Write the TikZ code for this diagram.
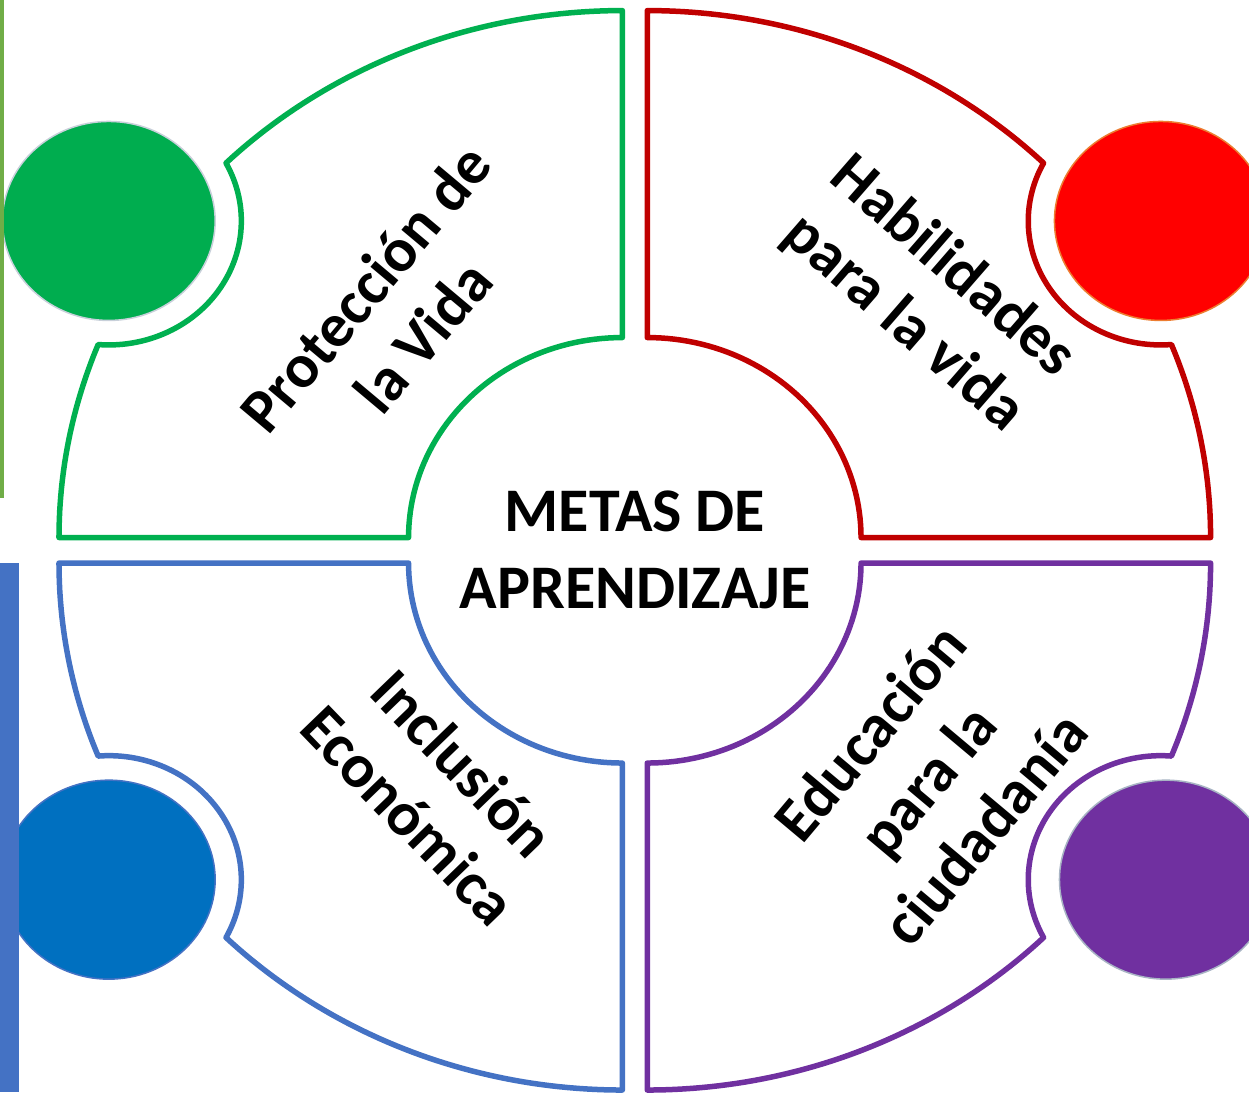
\documentclass[tikz,border=0pt]{standalone}
\usepackage{fontspec}
\setmainfont{Carlito}
\definecolor{gline}{HTML}{00B050}
\definecolor{gfill}{HTML}{00AD4F}
\definecolor{gring}{HTML}{C8D0DA}
\definecolor{rline}{HTML}{C00000}
\definecolor{rfill}{HTML}{FF0000}
\definecolor{rring}{HTML}{ED7D31}
\definecolor{bline}{HTML}{4472C4}
\definecolor{bfill}{HTML}{0070C0}
\definecolor{pline}{HTML}{7030A0}
\definecolor{pfill}{HTML}{7030A0}
\definecolor{pring}{HTML}{A8B4C4}
\definecolor{barg}{HTML}{70AD47}
\newcommand\quadpath{plot[domain=180:158.516,samples=30] ({527*cos(\x)},{527*sin(\x)}) -- plot[domain=265.379:387.848,samples=60] ({-480.4+124*cos(\x)},{316.6+124*sin(\x)}) -- plot[domain=134.712:90,samples=50] ({527*cos(\x)},{527*sin(\x)}) -- (0,200) -- plot[domain=90:180,samples=50] ({200*cos(\x)},{200*sin(\x)}) -- cycle}
\begin{document}
\begin{tikzpicture}[x=1pt,y=1pt,
  quad/.style={line width=5.5pt, line join=round, fill=white},
  ring/.style={line width=1.5pt},
  lbl/.style={font=\fontsize{62}{75}\selectfont\bfseries, align=center, inner sep=0pt, text=black}]
\useasboundingbox (-634.8,-541.7) rectangle (614.2,550.3);
\clip (-634.8,-541.7) rectangle (614.2,550.3);
\fill[white] (-634.8,-541.7) rectangle (614.2,550.3);
% green quadrant (top left)
\begin{scope}[shift={(-12.45,12.75)},xscale=1.069]
  \draw[quad, draw=gline] \quadpath;
  \filldraw[ring, fill=gfill, draw=gring] (-480.4,316.6) circle[radius=99.5];
\end{scope}
% red quadrant (top right)
\begin{scope}[shift={(12.45,12.75)},xscale=-1.069]
  \draw[quad, draw=rline] \quadpath;
  \filldraw[ring, fill=rfill, draw=rring] (-480.4,316.6) circle[radius=99.5];
\end{scope}
% blue quadrant (bottom left)
\begin{scope}[shift={(-12.45,-12.75)},xscale=1.069,yscale=-1]
  \draw[quad, draw=bline] \quadpath;
  \filldraw[ring, fill=bfill, draw=bline] (-480.4,316.6) circle[radius=99.5];
\end{scope}
% purple quadrant (bottom right)
\begin{scope}[shift={(12.45,-12.75)},xscale=-1.069,yscale=-1]
  \draw[quad, draw=pline] \quadpath;
  \filldraw[ring, fill=pfill, draw=pring] (-485.1,316.6) circle[radius=99.5];
\end{scope}
% side bars
\fill[barg] (-634.8,550.3) rectangle (-630.8,52.3);
\fill[bline] (-634.8,-12.7) rectangle (-615.8,-541.7);
% texts
\node[lbl, font=\fontsize{62}{77}\selectfont\bfseries] (meta) at (0.2,0.3) {METAS DE\\APRENDIZAJE};
\node[lbl, rotate=50] (prot) at (-240.8,238.3) {Protección de\\la Vida};
\node[lbl, rotate=-41] (hab) at (293.2,255.3) {Habilidades\\para la vida};
\node[lbl, rotate=-46] (inc) at (-198.8,-238.7) {Inclusión\\Económica};
\node[lbl, rotate=50] (edu) at (292.2,-229.7) {Educación\\para la\\ciudadanía};
\end{tikzpicture}
\end{document}
